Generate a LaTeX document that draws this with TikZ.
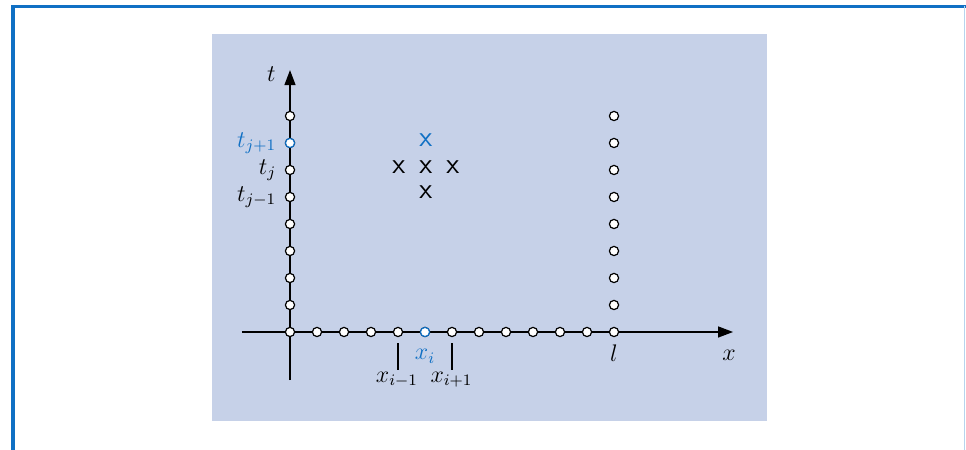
\documentclass[tikz,border=0pt]{standalone}
\usepackage{tikz}
\usetikzlibrary{arrows.meta}
\definecolor{accentbl}{RGB}{16,112,196}
\definecolor{panelbg}{RGB}{198,209,232}

\begin{document}
\begin{tikzpicture}[
  x=13.5pt, y=13.5pt,
  font=\large,
  >={Triangle[length=7.5pt,width=5.5pt]},
  gridpt/.style={circle, draw, fill=white, inner sep=0pt, minimum size=4.6pt, line width=0.6pt},
  meshx/.style={font=\sffamily\Large, inner sep=0pt},
  tlabel/.style={anchor=east, inner sep=0pt},
  xlabel/.style={inner sep=0.5pt},
]
  \useasboundingbox (-10.741,-4.370) rectangle (25.037,12.296);

  % Frame
  \draw[accentbl, line width=1.6pt] (-10.259,-4.6) -- (-10.259,12.056) -- (25.2,12.056);
  \draw[accentbl!30, line width=0.4pt] (24.98,12.056) -- (24.98,-4.6);

  % Panel
  \fill[panelbg] (-2.889,-3.296) rectangle (17.667,11.037);

  % Axes
  \draw[->, line width=0.65pt] (-1.78,0) -- (16.41,0);
  \draw[->, line width=0.65pt] (0,-1.78) -- (0,9.70);
  \node (tname) at (-0.69,9.56) {$t$};
  \node (xname) at (16.26,-0.85) {$x$};

  % Grid points on x-axis
  \foreach \i in {0,...,12} {
    \node[gridpt] (x\i) at (\i,0) {};
  }
  \node[gridpt, draw=accentbl] (x5) at (5,0) {};

  % Grid points on t-axis and at x = l
  \foreach \j in {1,...,8} {
    \node[gridpt] (t\j) at (0,\j) {};
    \node[gridpt] (l\j) at (12,\j) {};
  }
  \node[gridpt, draw=accentbl] (t7) at (0,7) {};

  % t labels
  \node[tlabel, accentbl] (tjp) at (-0.5,7) {$t_{j+1}$};
  \node[tlabel] (tj) at (-0.5,6) {$t_j$};
  \node[tlabel] (tjm) at (-0.5,5) {$t_{j-1}$};

  % x labels
  \coordinate (tickm) at (4,-1.41);
  \coordinate (tickp) at (6,-1.41);
  \draw[line width=0.6pt] ([yshift=-3pt]x4.south) -- (tickm);
  \draw[line width=0.6pt] ([yshift=-3pt]x6.south) -- (tickp);
  \node[xlabel] (xim) at (3.96,-1.76) {$x_{i-1}$};
  \node[xlabel] (xip) at (5.98,-1.76) {$x_{i+1}$};
  \node[xlabel, accentbl] (xi) at (5,-0.9) {$x_i$};
  \node[xlabel] (lname) at (12,-0.8) {$l$};

  % Stencil
  \node[meshx, accentbl] (sn) at (5.03,7.11) {x};
  \node[meshx] (sw) at (4.03,6.12) {x};
  \node[meshx] (sc) at (5.03,6.12) {x};
  \node[meshx] (se) at (6.03,6.12) {x};
  \node[meshx] (ss) at (5.03,5.18) {x};
\end{tikzpicture}
\end{document}
